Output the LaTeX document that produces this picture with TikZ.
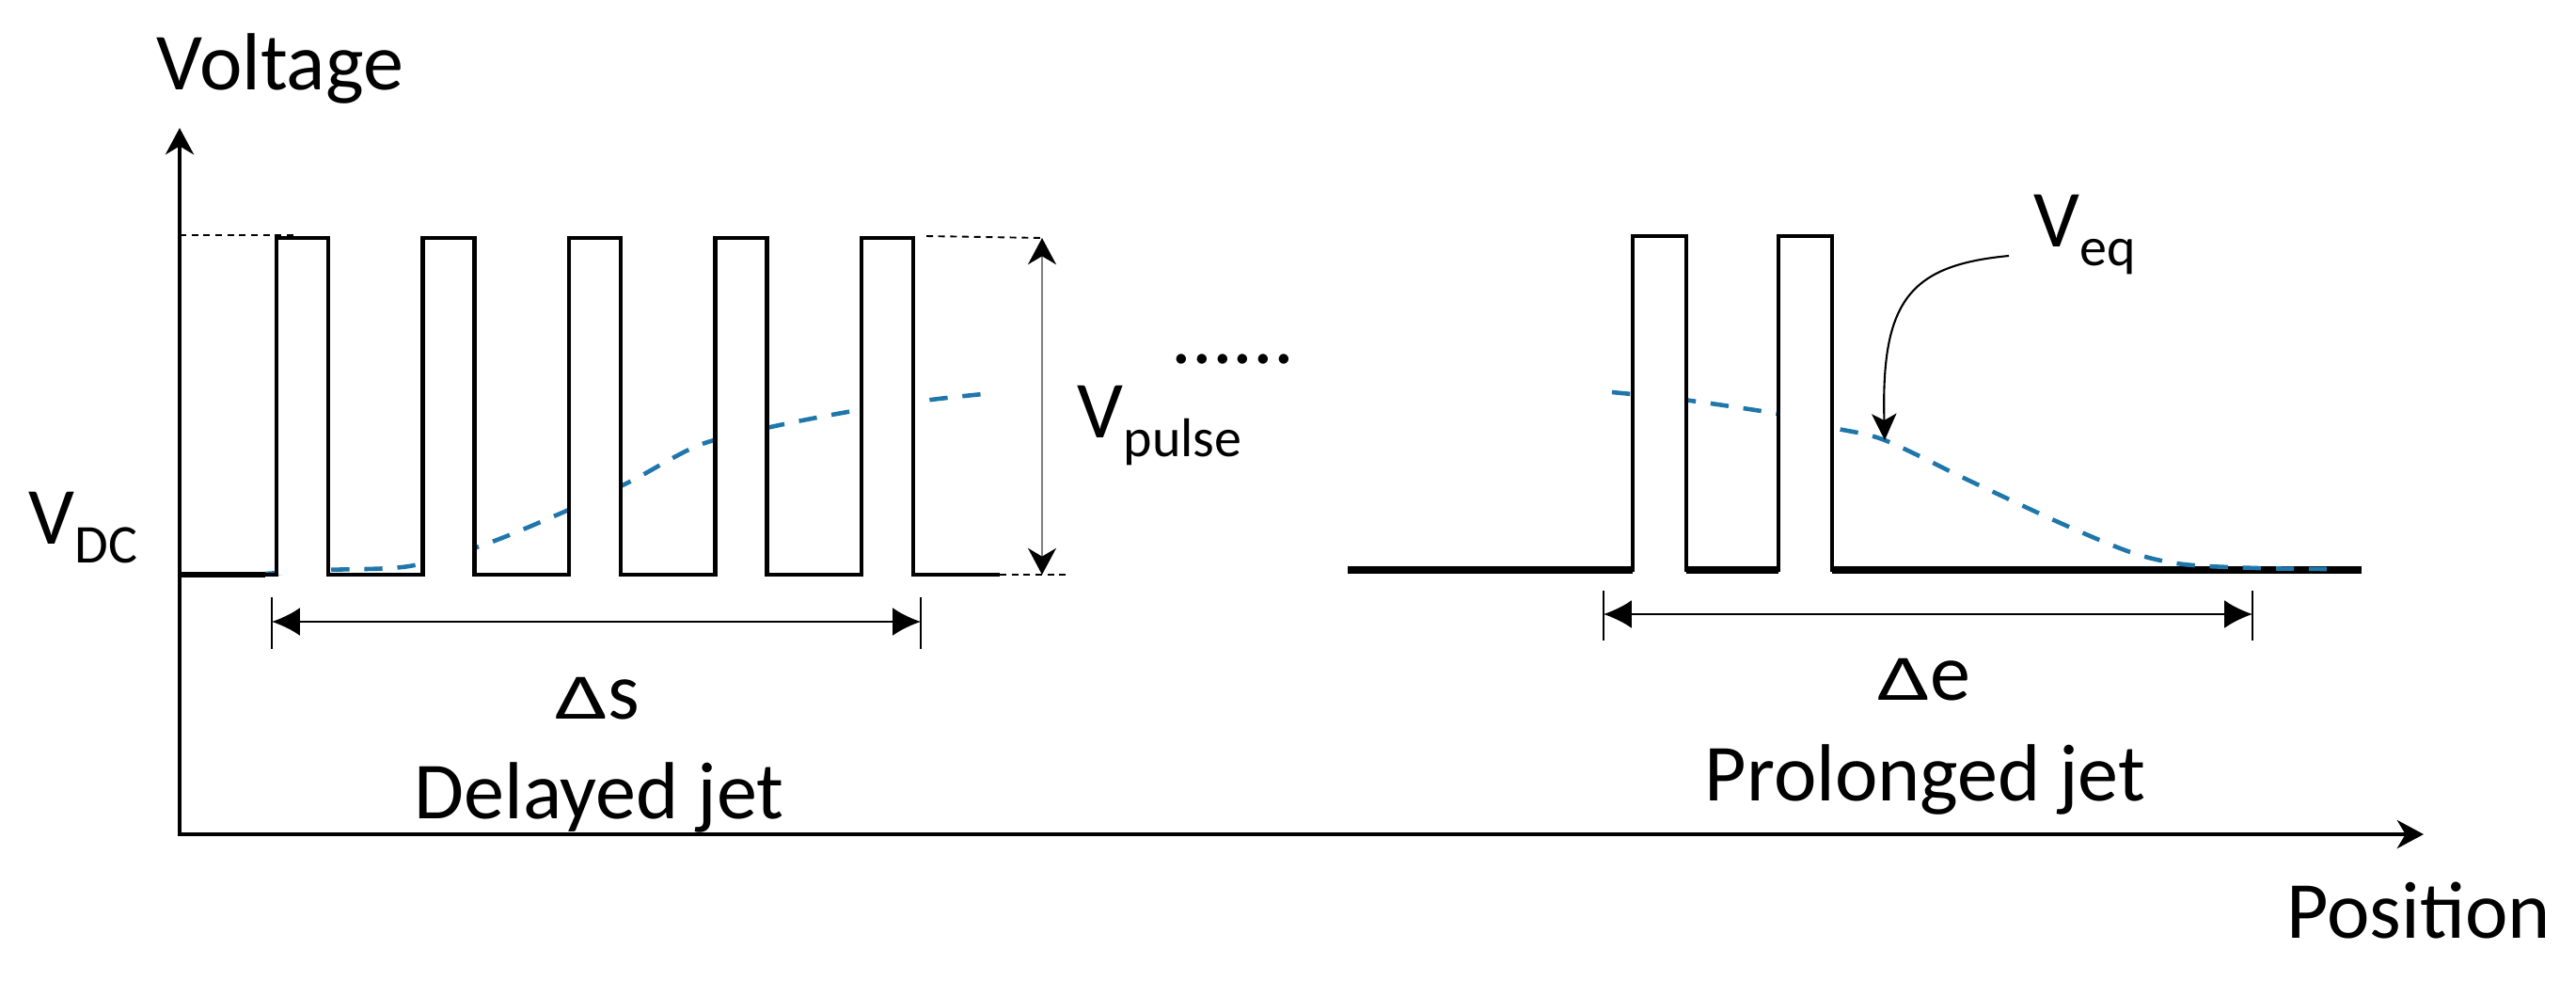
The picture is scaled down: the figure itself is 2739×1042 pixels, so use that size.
\documentclass[tikz,border=0pt]{standalone}
\usepackage{graphicx}
\usepackage{fontspec}
\setmainfont{Carlito}
\usepackage{tikz}
\usepackage{xcolor}
\usetikzlibrary{arrows.meta}
\definecolor{eqblue}{RGB}{30,118,170}
\definecolor{pulsegray}{RGB}{128,128,128}
\tikzstyle{axisarr}=[<->,>={Stealth[length=8pt,width=8.5pt,inset=2.5pt]},line width=1.4pt]
\tikzstyle{pulseline}=[line width=1.25pt]
\tikzstyle{dcline}=[line width=2pt]
\tikzstyle{guideline}=[line width=0.55pt,dash pattern=on 2pt off 1.6pt]
\tikzstyle{veqline}=[eqblue,line width=1.3pt,dash pattern=on 5.5pt off 4.5pt]
\tikzstyle{spanarr}=[<->,>={Latex[length=8.5pt,width=8.5pt]},line width=0.7pt]
\tikzstyle{pulsearr}=[<->,>={Stealth[length=8pt,width=8.5pt,inset=2.5pt,black]},pulsegray,line width=0.8pt]
\tikzstyle{callout}=[-{Stealth[length=8pt,width=7.5pt,inset=2pt]},line width=0.6pt]
\tikzstyle{tickline}=[line width=0.4pt]
\tikzstyle{lbl}=[inner sep=0pt,font=\fontsize{24.5}{29}\selectfont]
\newcommand\lowsub[1]{\raisebox{-5.7pt}{\fontsize{16.5}{18}\selectfont #1}}
\newcommand\deltaglyph{\scalebox{1.15}[0.8]{Δ}}

\begin{document}
\begin{tikzpicture}[x=0.01cm,y=-0.01cm]
  \useasboundingbox (0,0) rectangle (2739,1042);

  % axes
  \coordinate (O) at (191,887);
  \coordinate (ytip) at (191,136);
  \coordinate (xtip) at (2577,887);
  \draw[axisarr] (ytip) -- (O) -- (xtip);
  \node[lbl,anchor=base west] (voltage) at (166,95) {Voltage};
  \node[lbl,anchor=base west] (position) at (2431,997) {Position};

  % delayed jet: pulse train
  \draw[veqline] plot[smooth] coordinates {(282,610) (346,606) (435,602) (515,579)
    (591,548) (668,513) (744,473) (824,453) (907,437) (990,425) (1045,419)};
  \foreach \x in {294,449.5,605,760.5,916}
    \fill[white] (\x,253) rectangle (\x+55,611);
  \draw[pulseline] (191,611) foreach \x in {294,449.5,605,760.5,916}
    { -- (\x,611) -- (\x,253) -- (\x+55,253) -- (\x+55,611) } -- (1063,611);
  \draw[line width=1.6pt] (191,611) -- (282,611);
  \draw[guideline] (191,250) -- (312,250);
  \node[lbl,anchor=base west] (vdc) at (30,578) {V\lowsub{DC}};

  % pulse height
  \coordinate (ptop) at (1108,253);
  \coordinate (pbot) at (1108,611);
  \draw[guideline] (985,251) -- (ptop);
  \draw[guideline] (1063,611) -- (1138,611);
  \draw[pulsearr] (ptop) -- (pbot);
  \node[lbl,anchor=base west] (vpulse) at (1145,465) {V\lowsub{pulse}};
  \node[lbl,anchor=base west] (dots) at (1245,386) {......};

  % delayed jet span
  \coordinate (sL) at (289,661);
  \coordinate (sR) at (979,661);
  \draw[tickline] (289,635) -- (289,690);
  \draw[tickline] (979,635) -- (979,690);
  \draw[spanarr] (sL) -- (sR);
  \node[lbl,anchor=base] (ds) at (635,764) {\deltaglyph s};
  \node[lbl,anchor=base] (delayed) at (637,870) {Delayed jet};

  % prolonged jet
  \foreach \a/\b in {1433/1736,1793/1891,1948/2511}
    \draw[dcline] (\a,606) -- (\b,606);
  \draw[veqline] plot[smooth] coordinates {(1714,417) (1790,425) (1890,440) (1950,455)
    (2004,468) (2096,512) (2195,558) (2268,588) (2322,600) (2400,604) (2474,605)};
  \foreach \x in {1736,1891}
    \draw[pulseline,fill=white] (\x,608) -- (\x,251) -- (\x+57,251) -- (\x+57,608);

  \node[lbl,anchor=base west] (veq) at (2162,262) {V\lowsub{eq}};
  \coordinate (veqtail) at (2136,272);
  \coordinate (veqhead) at (2004,468);
  \draw[callout] (veqtail) .. controls (2030,282) and (2000,320) .. (veqhead);

  % prolonged jet span
  \coordinate (eL) at (1705,653);
  \coordinate (eR) at (2395,653);
  \draw[tickline] (1705,628) -- (1705,681);
  \draw[tickline] (2395,628) -- (2395,681);
  \draw[spanarr] (eL) -- (eR);
  \node[lbl,anchor=base] (de) at (2046,744) {\deltaglyph e};
  \node[lbl,anchor=base] (prolonged) at (2047,851) {Prolonged jet};
\end{tikzpicture}
\end{document}
